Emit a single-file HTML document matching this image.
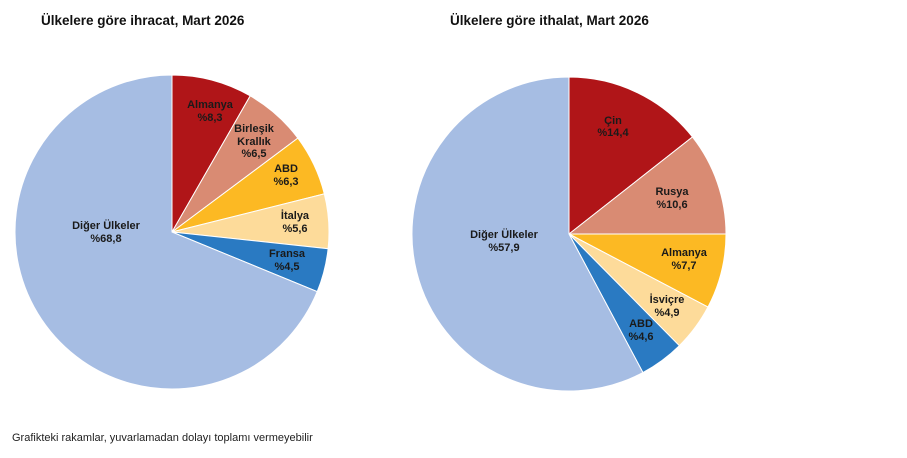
<!DOCTYPE html>
<html><head><meta charset="utf-8"><style>
html,body{margin:0;padding:0;background:#fff;width:907px;height:458px;overflow:hidden;font-family:"Liberation Sans",Arial,sans-serif}
</style></head><body>
<svg id="s" width="907" height="458" xmlns="http://www.w3.org/2000/svg" font-family="Liberation Sans, Arial, sans-serif">
<text x="41" y="25" font-size="13.5" font-weight="bold" fill="#111">Ülkelere göre ihracat, Mart 2026</text>
<text x="450" y="25" font-size="13.5" font-weight="bold" fill="#111">Ülkelere göre ithalat, Mart 2026</text>
<g id="p1"></g><g id="p2"></g>
<g font-size="11" font-weight="bold" fill="#1a1a1a" text-anchor="middle">
<text x="210" y="108">Almanya</text><text x="210" y="121">%8,3</text>
<text x="254" y="132">Birleşik</text><text x="254" y="145">Krallık</text><text x="254" y="157">%6,5</text>
<text x="286" y="172">ABD</text><text x="286" y="185">%6,3</text>
<text x="295" y="219">İtalya</text><text x="295" y="232">%5,6</text>
<text x="287" y="257">Fransa</text><text x="287" y="270">%4,5</text>
<text x="106" y="229">Diğer Ülkeler</text><text x="106" y="242">%68,8</text>
<text x="613" y="124">Çin</text><text x="613" y="136">%14,4</text>
<text x="672" y="195">Rusya</text><text x="672" y="208">%10,6</text>
<text x="684" y="256">Almanya</text><text x="684" y="269">%7,7</text>
<text x="667" y="303">İsviçre</text><text x="667" y="316">%4,9</text>
<text x="641" y="327">ABD</text><text x="641" y="340">%4,6</text>
<text x="504" y="238">Diğer Ülkeler</text><text x="504" y="251">%57,9</text>
</g>
<text x="12" y="441" font-size="11" fill="#222">Grafikteki rakamlar, yuvarlamadan dolayı toplamı vermeyebilir</text>
</svg>
<script>
var cols=["#b01518","#d98b73","#fcb923","#fddb9a","#2a7ac2","#a6bde3"];
function pie(id,cx,cy,r,vals){var g=document.getElementById(id),a=0,h="";
for(var i=0;i<vals.length;i++){var b=a+vals[i]/100*2*Math.PI;
var x1=cx+r*Math.sin(a),y1=cy-r*Math.cos(a),x2=cx+r*Math.sin(b),y2=cy-r*Math.cos(b);
h+='<path d="M'+cx+','+cy+'L'+x1+','+y1+'A'+r+','+r+' 0 '+((b-a)>Math.PI?1:0)+' 1 '+x2+','+y2+'Z" fill="'+cols[i]+'" stroke="#fff" stroke-width="1"/>';a=b;}
g.innerHTML=h;}
pie("p1",172,232,157,[8.3,6.5,6.3,5.6,4.5,68.8]);
pie("p2",569,234,157,[14.4,10.6,7.7,4.9,4.6,57.8]);
</script>
</body></html>
